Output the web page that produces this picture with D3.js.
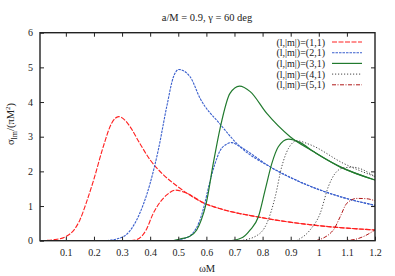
<!DOCTYPE html>
<html><head><meta charset="utf-8">
<script src="https://cdn.jsdelivr.net/npm/d3@7"></script>
<style>body{margin:0;background:#fff}svg text{font-family:"Liberation Serif","DejaVu Serif",serif;fill:#222}</style>
</head><body><svg id="c" width="395" height="276"></svg>
<script>
const title = "a/M = 0.9, γ = 60 deg";
const xTicks = [0.1,0.2,0.3,0.4,0.5,0.6,0.7,0.8,0.9,1,1.1,1.2];
const yTicks = [0,1,2,3,4,5,6];
const legendLabels = ["(l,|m|)=(1,1)","(l,|m|)=(2,1)","(l,|m|)=(3,1)","(l,|m|)=(4,1)","(l,|m|)=(5,1)"];
const colors = ["#ff2020","#3a5fcd","#217a2e","#333333","#b01818"];
const dashes = ["5,1.5","2.5,1","","1.2,1.8","4,1.5,1,1.5"];
const widths = [1.1,1.1,1.2,0.9,1];

// l=1
const l1a = [[0.01,0.0],[0.06,0.03],[0.1,0.12],[0.13,0.32],[0.15,0.6],[0.175,1.15],[0.2,1.78],[0.233,2.71],[0.263,3.39],[0.288,3.58],[0.31,3.48],[0.33,3.27],[0.36,2.85],[0.4,2.33],[0.45,1.88],[0.5,1.55],[0.55,1.27],[0.6,1.05],[0.65,0.92],[0.78,0.69],[0.981,0.45],[1.2,0.31]];
const l1b = [[0.33,0.0],[0.352,0.03],[0.385,0.3],[0.411,0.79],[0.459,1.32],[0.49,1.46],[0.53,1.37],[0.589,1.1],[0.65,0.92],[0.78,0.69],[0.981,0.45],[1.2,0.31]];
// l=2
const l2a = [[0.245,0.0],[0.305,0.12],[0.352,0.6],[0.4,1.66],[0.429,2.62],[0.459,3.87],[0.483,4.73],[0.502,4.94],[0.542,4.73],[0.578,4.1],[0.649,3.36],[0.72,2.71],[0.827,2.13],[0.958,1.61],[1.076,1.27],[1.2,1.02]];
const l2b = [[0.47,0.0],[0.52,0.06],[0.555,0.25],[0.575,0.55],[0.592,1.0],[0.607,1.52],[0.631,2.23],[0.649,2.6],[0.673,2.79],[0.69,2.83],[0.72,2.71],[0.827,2.13],[0.958,1.61],[1.076,1.27],[1.2,1.02]];
// l=3
const l3a = [[0.48,0.0],[0.506,0.05],[0.54,0.12],[0.565,0.3],[0.582,0.6],[0.6,1.1],[0.625,2.25],[0.649,3.25],[0.684,4.25],[0.718,4.46],[0.756,4.3],[0.815,3.67],[0.898,3.0],[0.981,2.57],[1.076,2.13],[1.2,1.75]];
const l3b = [[0.69,0.0],[0.73,0.1],[0.756,0.31],[0.785,0.69],[0.809,1.46],[0.833,2.23],[0.856,2.71],[0.892,2.93],[0.934,2.83],[0.981,2.57],[1.076,2.13],[1.2,1.75]];
// l=4
const l4a = [[0.72,0.0],[0.78,0.15],[0.815,0.5],[0.845,1.27],[0.868,2.13],[0.892,2.66],[0.922,2.88],[0.969,2.77],[1.088,2.23],[1.2,1.85]];
const l4b = [[0.92,0.0],[0.969,0.31],[1.005,0.79],[1.034,1.56],[1.058,1.94],[1.088,2.1],[1.12,2.12],[1.2,1.85]];
// l=5
const l5a = [[0.99,0.0],[1.052,0.31],[1.076,0.69],[1.1,1.08],[1.136,1.22],[1.171,1.21],[1.2,1.15]];
const l5b = [[1.085,0.0],[1.13,0.04],[1.159,0.12],[1.2,0.31]];

const series = [[l1a,l1b],[l2a,l2b],[l3a,l3b],[l4a,l4b],[l5a,l5b]];

const svg = d3.select("#c");
const L=40,R=375,T=32.7,B=240.7;
const x = d3.scaleLinear().domain([0.008,1.2]).range([L,R]);
const y = d3.scaleLinear().domain([0,6]).range([B,T]);

svg.append("defs").append("clipPath").attr("id","clip").append("rect").attr("x",L).attr("y",T).attr("width",R-L).attr("height",B-T);

const line = d3.line().x(d=>x(d[0])).y(d=>y(d[1])).curve(d3.curveMonotoneX);
const g = svg.append("g").attr("clip-path","url(#clip)");
series.forEach((pair,i)=>{
  pair.forEach(s=>{
    g.append("path").attr("d",line(s)).attr("fill","none").attr("stroke",colors[i])
      .attr("stroke-width",widths[i]).attr("stroke-dasharray",dashes[i]||null);
  });
});

// axes
const ax = svg.append("g");
ax.append("g").attr("transform",`translate(0,${B})`).call(d3.axisBottom(x).tickValues(xTicks).tickSize(-4).tickFormat(d3.format("")).tickPadding(8));
ax.append("g").attr("transform",`translate(0,${T})`).call(d3.axisTop(x).tickValues(xTicks.slice(0,-1)).tickSize(-4).tickFormat(""));
ax.append("g").attr("transform",`translate(${L},0)`).call(d3.axisLeft(y).tickValues(yTicks).tickSize(-4).tickFormat(d3.format("d")).tickPadding(7));
ax.append("g").attr("transform",`translate(${R},0)`).call(d3.axisRight(y).tickValues(yTicks.slice(1,-1)).tickSize(-4).tickFormat(""));
ax.selectAll(".domain").remove();
ax.selectAll("line").attr("stroke","#222").attr("stroke-width",1);
ax.selectAll("text").style("font-size","10px").style("font-family","'Liberation Serif', serif").style("fill","#222");
svg.append("rect").attr("x",L).attr("y",T).attr("width",R-L).attr("height",B-T).attr("fill","none").attr("stroke","#222").attr("stroke-width",1.4);

// title & labels
svg.append("text").attr("x",207).attr("y",21).attr("text-anchor","middle").attr("font-size",10.5).text(title);
svg.append("text").attr("x",207).attr("y",272).attr("text-anchor","middle").attr("font-size",10.5).text("ωM");
const yt = svg.append("text").attr("transform","translate(14,124) rotate(-90)").attr("text-anchor","middle").attr("font-size",10.5);
yt.append("tspan").text("σ");
yt.append("tspan").attr("font-size",8).attr("dy",3).text("lm");
yt.append("tspan").attr("dy",-3).text("/(πM");
yt.append("tspan").attr("font-size",7).attr("dy",-4).text("2");
yt.append("tspan").attr("dy",4).text(")");

// legend
const ly0=42, ldy=10.7;
legendLabels.forEach((t,i)=>{
  const yy = ly0+i*ldy;
  svg.append("text").attr("x",325).attr("y",yy+3.5).attr("text-anchor","end").attr("font-size",10).text(t);
  svg.append("line").attr("x1",332).attr("x2",362).attr("y1",yy).attr("y2",yy).attr("stroke",colors[i]).attr("stroke-width",widths[i]).attr("stroke-dasharray",dashes[i]||null);
});
</script></body></html>
